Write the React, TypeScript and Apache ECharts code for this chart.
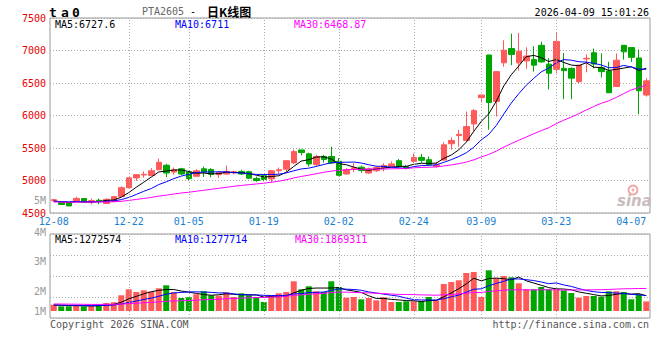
import React, { useEffect, useRef } from "react";
import * as echarts from "echarts";

// ---------- data ----------
const dates: string[] = [
  "12-08","12-09","12-10","12-11","12-12","12-15","12-16","12-17","12-18","12-19",
  "12-22","12-23","12-24","12-25","12-26","12-29","12-30","12-31",
  "01-05","01-06","01-07","01-08","01-09","01-12","01-13","01-14","01-15","01-16",
  "01-19","01-20","01-21","01-22","01-23","01-26","01-27","01-28","01-29","01-30",
  "02-02","02-03","02-04","02-05","02-06","02-09","02-10","02-11","02-12","02-13",
  "02-24","02-25","02-26","02-27",
  "03-02","03-03","03-04","03-05","03-06","03-09","03-10","03-11","03-12","03-13",
  "03-16","03-17","03-18","03-19","03-20","03-23","03-24","03-25","03-26","03-27",
  "03-30","03-31","04-01","04-02","04-03","04-07","04-08","04-09",
];

const labelDates = ["12-08","12-22","01-05","01-19","02-02","02-24","03-09","03-23","04-07"];
const gridDates = ["12-22","01-05","01-19","02-02","02-24","03-09","03-23"];

const opens = [
  4690,4661,4661,4680,4722,4680,4696,4646,4676,4752,
  4889,5040,5085,5075,5165,5235,5130,5180,5130,5065,
  5180,5170,5090,5100,5125,5140,5135,5030,5075,5025,
  5150,5175,5270,5470,5410,5245,5370,5370,5295,5100,
  5180,5205,5115,5150,5195,5220,5305,5215,5295,5355,
  5320,5215,5315,5565,5690,5615,5870,6275,6930,6215,
  6810,7030,6810,6840,6860,7080,6790,6710,6725,6725,
  6520,6870,6965,6735,6685,6445,7080,7045,6885,6315,
];
const closes = [
  4705,4631,4609,4725,4670,4690,4676,4711,4752,4889,
  5041,5090,5095,5150,5280,5115,5165,5100,5030,5150,
  5130,5095,5125,5140,5135,5100,5035,5000,5015,5150,
  5165,5305,5445,5430,5255,5370,5325,5270,5080,5165,
  5195,5155,5180,5200,5230,5255,5220,5185,5355,5310,
  5245,5240,5550,5615,5710,5830,6075,6315,6200,6675,
  7005,6940,6990,6915,6775,6825,6650,7140,6690,6575,
  6775,6880,6792,6675,6350,6850,6980,6895,6380,6533,
];
const lows = [
  4680,4625,4605,4675,4660,4635,4635,4640,4670,4745,
  4880,4995,5045,5070,5160,5050,5090,5080,5000,5060,
  5055,5050,5040,5090,5095,5085,5020,4980,4990,4970,
  5100,5115,5260,5385,5215,5220,5275,5255,5065,5090,
  5130,5120,5100,5130,5140,5210,5195,5170,5270,5275,
  5230,5195,5305,5475,5520,5600,5755,6200,5780,5985,
  6750,6775,6690,6720,6675,6810,6400,6650,6250,6250,
  6495,6665,6725,6585,6345,6440,6860,6825,6020,6290,
];
const highs = [
  4715,4670,4665,4750,4725,4722,4722,4725,4755,4910,
  5045,5095,5140,5190,5335,5255,5200,5195,5150,5175,
  5215,5190,5140,5230,5150,5165,5150,5060,5095,5155,
  5200,5310,5475,5475,5430,5395,5395,5520,5345,5190,
  5270,5230,5200,5220,5265,5295,5330,5240,5415,5410,
  5370,5290,5590,5665,5780,6060,6100,6320,6935,6680,
  7157,7260,7270,7050,7065,7135,6880,7270,6960,6740,
  6780,6940,7030,6955,6825,6955,7085,7050,7015,6575,
];
// closes of the 29 sessions before 12-08 (estimated from the starting MA levels)
const priorCloses = [
  4705,4690,4672,4650,4636,4655,4680,4694,4668,4645,
  4628,4642,4665,4682,4660,4644,4650,4671,4690,4682,
  4661,4648,4670,4688,4698,4680,4668,4676,4692,
];

const volumes = [
  523000,390000,390000,473000,390000,390000,556000,664000,722000,1303000,
  1801000,1577000,1718000,1602000,1884000,2133000,1577000,1079000,1137000,1386000,
  1635000,1303000,1270000,1552000,1162000,1469000,1303000,1162000,747000,1270000,
  1469000,1577000,2465000,1801000,2050000,1635000,1577000,2465000,1992000,1104000,
  1162000,971000,1079000,888000,1137000,747000,747000,805000,805000,805000,
  1162000,888000,2241000,2407000,2548000,3154000,3240000,1162000,3378000,2714000,
  2905000,2797000,2299000,1801000,1801000,1992000,1801000,1801000,1718000,1494000,
  1102000,1245000,1245000,1187000,1635000,1635000,1577000,971000,1386000,794000,
];
const priorVolumes = [
  620000,580000,660000,700000,640000,590000,560000,610000,680000,650000,
  600000,570000,630000,690000,660000,610000,580000,540000,600000,640000,
  590000,550000,520000,560000,500000,470000,510000,480000,450000,
];

const priceTicks = { min: 4500, max: 7500, step: 500 };
const volLabels = ["4M", "3M", "2M", "1M"];
const legendPrice = ["MA5:6727.6", "MA10:6711", "MA30:6468.87"];
const legendVol = ["MA5:1272574", "MA10:1277714", "MA30:1869311"];

// ---------- helpers ----------
function movingAverage(values: number[], prior: number[], n: number): number[] {
  const all = prior.concat(values);
  return values.map((_, i) => {
    const end = prior.length + i;
    let s = 0;
    for (let k = end - n + 1; k <= end; k++) s += all[k];
    return +(s / n).toFixed(2);
  });
}

const UP = "#ff5a5a";
const DOWN = "#00a600";
const MONO = '"DejaVu Sans Mono", monospace';

export default function App() {
  const ref = useRef<HTMLDivElement>(null);

  useEffect(() => {
    document.body.style.margin = "0";
    if (!ref.current) return;
    const chart = echarts.init(ref.current, undefined, { renderer: "svg" });

    const ohlc = dates.map((_, i) => [opens[i], closes[i], lows[i], highs[i]]);
    const ma5 = movingAverage(closes, priorCloses, 5);
    const ma10 = movingAverage(closes, priorCloses, 10);
    const ma30 = movingAverage(closes, priorCloses, 30);
    const vma5 = movingAverage(volumes, priorVolumes, 5);
    const vma10 = movingAverage(volumes, priorVolumes, 10);
    const vma30 = movingAverage(volumes, priorVolumes, 30);

    const gridLineStyle = { color: "#aaa", width: 1, type: [1, 2] as any };
    const vLines = {
      silent: true,
      symbol: ["none", "none"],
      label: { show: false },
      lineStyle: gridLineStyle,
      emphasis: { disabled: true },
      data: gridDates.map((d) => ({ xAxis: d })),
    };

    const txt = (text: string, x: number, y: number, fill: string, font: string, align = "left") => ({
      type: "text",
      x,
      y,
      silent: true,
      z: 100,
      style: { text, fill, font, textAlign: align, textVerticalAlign: "middle" },
    });

    const volPxPerM = 12.05; // panel scale
    const volMin = -(7 / volPxPerM) * 1e6;
    const volMax = (77 / volPxPerM) * 1e6;

    const option: any = {
      animation: false,
      backgroundColor: "#ffffff",
      grid: [
        { left: 50, right: 10, top: 18, height: 195, show: true, borderColor: "#999", borderWidth: 1 },
        { left: 50, right: 10, top: 234, height: 84, show: true, borderColor: "#999", borderWidth: 1 },
      ],
      xAxis: [
        {
          type: "category",
          gridIndex: 0,
          data: dates,
          boundaryGap: true,
          axisLine: { show: false },
          axisTick: { show: false },
          splitLine: { show: false },
          axisLabel: {
            interval: (_i: number, v: string) => labelDates.includes(v),
            color: "#1a80d0",
            fontFamily: MONO,
            fontSize: 10,
            margin: 3,
          },
        },
        {
          type: "category",
          gridIndex: 1,
          data: dates,
          boundaryGap: true,
          axisLine: { show: false },
          axisTick: { show: false },
          splitLine: { show: false },
          axisLabel: { show: false },
        },
      ],
      yAxis: [
        {
          type: "value",
          gridIndex: 0,
          min: priceTicks.min,
          max: priceTicks.max,
          interval: priceTicks.step,
          axisLine: { show: false },
          axisTick: { show: false },
          axisLabel: {
            color: "#e60000",
            fontFamily: MONO,
            fontSize: 10,
            margin: 4,
            formatter: (v: number) => String(v),
          },
          splitLine: { show: true, lineStyle: gridLineStyle },
        },
        {
          type: "value",
          gridIndex: 1,
          min: volMin,
          max: volMax,
          axisLine: { show: false },
          axisTick: { show: false },
          axisLabel: { show: false },
          splitLine: { show: false },
        },
        {
          type: "value",
          gridIndex: 1,
          min: 0,
          max: 4,
          interval: 1,
          axisLine: { show: false },
          axisTick: { show: false },
          axisLabel: { show: false },
          splitLine: { show: true, lineStyle: gridLineStyle },
        },
      ],
      series: [
        {
          type: "candlestick",
          xAxisIndex: 0,
          yAxisIndex: 0,
          data: ohlc,
          barWidth: 6,
          itemStyle: { color: UP, color0: DOWN, borderColor: UP, borderColor0: DOWN, borderWidth: 1 },
          markLine: vLines,
          z: 2,
        },
        { type: "line", xAxisIndex: 0, yAxisIndex: 0, data: ma5, symbol: "none", lineStyle: { color: "#000", width: 1 }, z: 3 },
        { type: "line", xAxisIndex: 0, yAxisIndex: 0, data: ma10, symbol: "none", lineStyle: { color: "#0000ff", width: 1 }, z: 3 },
        { type: "line", xAxisIndex: 0, yAxisIndex: 0, data: ma30, symbol: "none", lineStyle: { color: "#ff00ff", width: 1 }, z: 3 },
        {
          type: "bar",
          xAxisIndex: 1,
          yAxisIndex: 1,
          barWidth: 6,
          data: volumes.map((v, i) => ({
            value: v,
            itemStyle: { color: closes[i] >= opens[i] ? UP : DOWN },
          })),
          markLine: vLines,
          z: 2,
        },
        { type: "line", xAxisIndex: 1, yAxisIndex: 1, data: vma5, symbol: "none", lineStyle: { color: "#000", width: 1 }, z: 3 },
        { type: "line", xAxisIndex: 1, yAxisIndex: 1, data: vma10, symbol: "none", lineStyle: { color: "#0000ff", width: 1 }, z: 3 },
        { type: "line", xAxisIndex: 1, yAxisIndex: 1, data: vma30, symbol: "none", lineStyle: { color: "#ff00ff", width: 1 }, z: 3 },
      ],
      graphic: [
        txt("t", 49, 12, "#000", 'bold 13px "DejaVu Sans Mono"'),
        txt("a", 61, 12, "#000", 'bold 13px "DejaVu Sans Mono"'),
        txt("0", 72, 12, "#000", 'bold 13px "DejaVu Sans Mono"'),
        txt("PTA2605", 142, 11, "#666", `10px ${MONO}`),
        txt("-", 190, 11, "#000", `10px ${MONO}`),
        txt("日K线图", 207, 11, "#000", 'bold 12px "Noto Sans CJK SC"'),
        txt("2026-04-09 15:01:26", 649, 12, "#000", `10px ${MONO}`, "right"),
        txt(legendPrice[0], 55, 24, "#000", `10px ${MONO}`),
        txt(legendPrice[1], 175, 24, "#0000ff", `10px ${MONO}`),
        txt(legendPrice[2], 294, 24, "#ff00ff", `10px ${MONO}`),
        txt(legendVol[0], 55, 239, "#000", `10px ${MONO}`),
        txt(legendVol[1], 175, 239, "#0000ff", `10px ${MONO}`),
        txt(legendVol[2], 295, 239, "#ff00ff", `10px ${MONO}`),
        txt("5M", 46, 200, "#999", `10px ${MONO}`, "right"),
        txt(volLabels[0], 46, 232, "#999", `10px ${MONO}`, "right"),
        txt(volLabels[1], 46, 261, "#999", `10px ${MONO}`, "right"),
        txt(volLabels[2], 46, 291, "#999", `10px ${MONO}`, "right"),
        txt(volLabels[3], 46, 311, "#999", `10px ${MONO}`, "right"),
        txt("Copyright 2026 SINA.COM", 50, 324, "#555", `10px ${MONO}`),
        txt("http://finance.sina.com.cn", 649, 324, "#555", `10px ${MONO}`, "right"),
        {
          type: "circle",
          silent: true,
          z: 1,
          shape: { cx: 633, cy: 190, r: 4.5 },
          style: { fill: "none", stroke: "#f2a8a8", lineWidth: 2 },
        },
        {
          type: "circle",
          silent: true,
          z: 1,
          shape: { cx: 633, cy: 190, r: 1.5 },
          style: { fill: "#f2a8a8" },
        },
        txt("sina", 617, 201, "#c9bcbc", 'italic bold 15px "DejaVu Sans"'),
      ],
    };

    chart.setOption(option);
    return () => chart.dispose();
  }, []);

  return <div ref={ref} style={{ position: "fixed", left: 0, top: 0, width: 660, height: 360 }} />;
}
